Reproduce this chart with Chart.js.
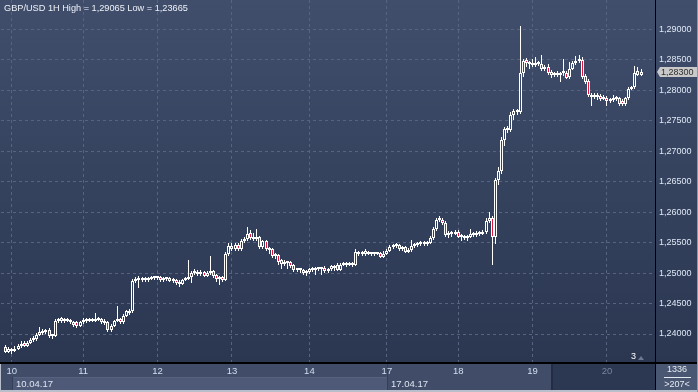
<!DOCTYPE html>
<html>
<head>
<meta charset="utf-8">
<title>GBP/USD 1H</title>
<script src="https://cdn.jsdelivr.net/npm/chart.js@4.4.0/dist/chart.umd.min.js"></script>
<style>
  html, body { margin: 0; padding: 0; background: #2c3852; }
  canvas { display: block; }
</style>
</head>
<body>
<canvas id="chart" width="698" height="392"></canvas>
<script>
// hourly candles, 9th 22:00 -> 20th 11:00 (weekend removed)
const opens = [
  1.2378, 1.2371, 1.2375, 1.2372, 1.2376, 1.2380, 1.2385, 1.2380, 1.2385, 1.2390,
  1.2391, 1.2398, 1.2401, 1.2404, 1.2406, 1.2397, 1.2396, 1.2421, 1.2426, 1.2421,
  1.2423, 1.2422, 1.2420, 1.2419, 1.2413, 1.2419, 1.2423, 1.2421, 1.2424, 1.2422,
  1.2425, 1.2424, 1.2421, 1.2419, 1.2406, 1.2413, 1.2421, 1.2424, 1.2419, 1.2430,
  1.2437, 1.2437, 1.2487, 1.2491, 1.2489, 1.2491, 1.2489, 1.2490, 1.2493, 1.2492,
  1.2493, 1.2488, 1.2490, 1.2492, 1.2487, 1.2489, 1.2486, 1.2482, 1.2489, 1.2490,
  1.2494, 1.2500, 1.2502, 1.2499, 1.2502, 1.2496, 1.2500, 1.2503, 1.2497, 1.2490,
  1.2493, 1.2489, 1.2531, 1.2545, 1.2540, 1.2546, 1.2539, 1.2553, 1.2556, 1.2566,
  1.2560, 1.2556, 1.2559, 1.2543, 1.2552, 1.2540, 1.2540, 1.2528, 1.2530, 1.2521,
  1.2515, 1.2518, 1.2518, 1.2513, 1.2505, 1.2507, 1.2505, 1.2500, 1.2502, 1.2506,
  1.2505, 1.2507, 1.2506, 1.2508, 1.2503, 1.2506, 1.2511, 1.2514, 1.2505, 1.2514,
  1.2516, 1.2514, 1.2515, 1.2513, 1.2535, 1.2531, 1.2537, 1.2531, 1.2533, 1.2531,
  1.2532, 1.2533, 1.2527, 1.2532, 1.2537, 1.2543, 1.2545, 1.2546, 1.2539, 1.2543,
  1.2535, 1.2538, 1.2545, 1.2546, 1.2548, 1.2549, 1.2547, 1.2550, 1.2558, 1.2572,
  1.2587, 1.2588, 1.2583, 1.2563, 1.2566, 1.2565, 1.2567, 1.2559, 1.2561, 1.2558,
  1.2560, 1.2565, 1.2563, 1.2566, 1.2565, 1.2568, 1.2586, 1.2590, 1.2560, 1.2653,
  1.2667, 1.2719, 1.2737, 1.2735, 1.2760, 1.2766, 1.2765, 1.2828, 1.2850, 1.2845,
  1.2845, 1.2841, 1.2843, 1.2844, 1.2835, 1.2838, 1.2831, 1.2825, 1.2829, 1.2825,
  1.2828, 1.2829, 1.2822, 1.2836, 1.2845, 1.2849, 1.2850, 1.2824, 1.2815, 1.2792,
  1.2790, 1.2791, 1.2791, 1.2786, 1.2788, 1.2782, 1.2784, 1.2786, 1.2787, 1.2783,
  1.2777, 1.2787, 1.2803, 1.2805, 1.2832, 1.2826
];
const highs = [
  1.2382, 1.2378, 1.2377, 1.2380, 1.2383, 1.2389, 1.2388, 1.2388, 1.2393, 1.2397,
  1.2401, 1.2411, 1.2408, 1.2409, 1.2410, 1.2399, 1.2424, 1.2427, 1.2428, 1.2426,
  1.2426, 1.2424, 1.2422, 1.2421, 1.2422, 1.2426, 1.2427, 1.2427, 1.2427, 1.2434,
  1.2428, 1.2427, 1.2424, 1.2421, 1.2416, 1.2423, 1.2446, 1.2427, 1.2433, 1.2440,
  1.2441, 1.2490, 1.2494, 1.2495, 1.2494, 1.2493, 1.2494, 1.2495, 1.2496, 1.2496,
  1.2495, 1.2493, 1.2494, 1.2494, 1.2492, 1.2491, 1.2488, 1.2491, 1.2493, 1.2521,
  1.2503, 1.2506, 1.2505, 1.2505, 1.2504, 1.2503, 1.2528, 1.2505, 1.2499, 1.2496,
  1.2495, 1.2534, 1.2550, 1.2549, 1.2550, 1.2549, 1.2556, 1.2560, 1.2575, 1.2570,
  1.2566, 1.2573, 1.2561, 1.2555, 1.2555, 1.2543, 1.2542, 1.2533, 1.2532, 1.2524,
  1.2521, 1.2520, 1.2520, 1.2515, 1.2509, 1.2509, 1.2507, 1.2505, 1.2509, 1.2510,
  1.2510, 1.2509, 1.2510, 1.2511, 1.2509, 1.2513, 1.2514, 1.2517, 1.2517, 1.2519,
  1.2518, 1.2519, 1.2518, 1.2540, 1.2537, 1.2537, 1.2540, 1.2536, 1.2535, 1.2535,
  1.2535, 1.2535, 1.2536, 1.2540, 1.2546, 1.2548, 1.2549, 1.2548, 1.2545, 1.2545,
  1.2541, 1.2554, 1.2549, 1.2551, 1.2552, 1.2552, 1.2553, 1.2561, 1.2575, 1.2591,
  1.2593, 1.2591, 1.2585, 1.2569, 1.2569, 1.2570, 1.2570, 1.2564, 1.2563, 1.2563,
  1.2573, 1.2568, 1.2569, 1.2569, 1.2571, 1.2590, 1.2600, 1.2594, 1.2657, 1.2675,
  1.2723, 1.2740, 1.2741, 1.2764, 1.2769, 1.2770, 1.29065, 1.2852, 1.2853, 1.2849,
  1.2851, 1.2855, 1.2848, 1.2859, 1.2841, 1.2843, 1.2833, 1.2830, 1.2832, 1.2831,
  1.2851, 1.2832, 1.2846, 1.2849, 1.2857, 1.2858, 1.2855, 1.2827, 1.2818, 1.2795,
  1.2795, 1.2795, 1.2794, 1.2792, 1.2791, 1.2788, 1.2792, 1.2791, 1.2790, 1.2786,
  1.2790, 1.2806, 1.2808, 1.2840, 1.2839, 1.2835
];
const lows = [
  1.2369, 1.2369, 1.23665, 1.2370, 1.2373, 1.2377, 1.2378, 1.2378, 1.2383, 1.2387,
  1.2389, 1.2396, 1.2399, 1.2400, 1.2394, 1.2392, 1.2395, 1.2418, 1.2418, 1.2418,
  1.2419, 1.2417, 1.2411, 1.2410, 1.2411, 1.2417, 1.2418, 1.2419, 1.2420, 1.2420,
  1.2421, 1.2417, 1.2415, 1.2403, 1.2404, 1.2411, 1.2419, 1.2416, 1.2417, 1.2428,
  1.2432, 1.2435, 1.2484, 1.2475, 1.2485, 1.2486, 1.2486, 1.2488, 1.2489, 1.2489,
  1.2486, 1.2485, 1.2487, 1.2485, 1.2484, 1.2481, 1.2478, 1.2480, 1.2487, 1.2488,
  1.2484, 1.2497, 1.2496, 1.2496, 1.2494, 1.2493, 1.2497, 1.2492, 1.2486, 1.2481,
  1.2486, 1.2487, 1.2528, 1.2536, 1.2537, 1.2536, 1.2537, 1.2550, 1.2553, 1.2555,
  1.2553, 1.2552, 1.2540, 1.2540, 1.2537, 1.2531, 1.2525, 1.2524, 1.2514, 1.2506,
  1.2512, 1.2506, 1.2509, 1.2502, 1.2502, 1.2501, 1.2497, 1.2495, 1.2499, 1.2502,
  1.2497, 1.2503, 1.2497, 1.2500, 1.2501, 1.2503, 1.2504, 1.2503, 1.2503, 1.2511,
  1.2510, 1.2511, 1.2510, 1.2511, 1.2528, 1.2528, 1.2528, 1.2529, 1.2528, 1.2528,
  1.2529, 1.2525, 1.2525, 1.2530, 1.2534, 1.2540, 1.2541, 1.2537, 1.2537, 1.2533,
  1.2533, 1.2535, 1.2541, 1.2543, 1.2545, 1.2544, 1.2545, 1.2548, 1.2555, 1.2569,
  1.2584, 1.2579, 1.2560, 1.2558, 1.2560, 1.2562, 1.2557, 1.2553, 1.2555, 1.2552,
  1.2558, 1.2560, 1.2560, 1.2561, 1.2562, 1.2565, 1.2583, 1.2513, 1.2548, 1.2645,
  1.2663, 1.2708, 1.2730, 1.2732, 1.2752, 1.2760, 1.2762, 1.2822, 1.2839, 1.2836,
  1.2838, 1.2838, 1.2840, 1.2832, 1.2832, 1.2826, 1.2820, 1.2822, 1.2822, 1.2814,
  1.2823, 1.2818, 1.2818, 1.2833, 1.2842, 1.2845, 1.2819, 1.2810, 1.2789, 1.2775,
  1.2786, 1.2784, 1.2783, 1.2784, 1.2775, 1.2779, 1.2781, 1.2783, 1.2775, 1.2774,
  1.2775, 1.2784, 1.2800, 1.2802, 1.2823, 1.2823
];
const closes = [
  1.2371, 1.2375, 1.2372, 1.2376, 1.2380, 1.2384, 1.2380, 1.2386, 1.2390, 1.2394,
  1.2398, 1.2404, 1.2404, 1.2403, 1.2397, 1.2396, 1.2421, 1.2424, 1.2421, 1.2423,
  1.2422, 1.2420, 1.2415, 1.2413, 1.2419, 1.2423, 1.2421, 1.2424, 1.2422, 1.2425,
  1.2423, 1.2419, 1.2418, 1.2406, 1.2413, 1.2421, 1.2424, 1.2419, 1.2430, 1.2437,
  1.2435, 1.2487, 1.2491, 1.2489, 1.2491, 1.2489, 1.2490, 1.2493, 1.2492, 1.2493,
  1.2488, 1.2490, 1.2491, 1.2487, 1.2489, 1.2483, 1.2482, 1.2489, 1.2490, 1.2494,
  1.2500, 1.2502, 1.2499, 1.2501, 1.2496, 1.2500, 1.2503, 1.2495, 1.2490, 1.2493,
  1.2489, 1.2531, 1.2545, 1.2540, 1.2546, 1.2539, 1.2553, 1.2556, 1.2565, 1.2558,
  1.2556, 1.2559, 1.2543, 1.2552, 1.2540, 1.2538, 1.2528, 1.2529, 1.2519, 1.2515,
  1.2518, 1.2516, 1.2512, 1.2505, 1.2507, 1.2505, 1.2500, 1.2502, 1.2506, 1.2505,
  1.2507, 1.2506, 1.2507, 1.2503, 1.2506, 1.2511, 1.2508, 1.2505, 1.2514, 1.2516,
  1.2514, 1.2515, 1.2513, 1.2535, 1.2531, 1.2533, 1.2531, 1.2533, 1.2531, 1.2532,
  1.2531, 1.2527, 1.2532, 1.2537, 1.2543, 1.2545, 1.2544, 1.2539, 1.2541, 1.2535,
  1.2538, 1.2545, 1.2546, 1.2548, 1.2549, 1.2547, 1.2550, 1.2558, 1.2572, 1.2587,
  1.2588, 1.2582, 1.2563, 1.2566, 1.2565, 1.2567, 1.2559, 1.2561, 1.2558, 1.2560,
  1.2565, 1.2563, 1.2566, 1.2565, 1.2568, 1.2586, 1.2591, 1.2560, 1.2653, 1.2667,
  1.2719, 1.2737, 1.2735, 1.2760, 1.2766, 1.2765, 1.2828, 1.2848, 1.2845, 1.2843,
  1.2841, 1.2843, 1.2844, 1.2835, 1.2837, 1.2829, 1.2825, 1.2827, 1.2825, 1.2828,
  1.2829, 1.2821, 1.2836, 1.2845, 1.2849, 1.2852, 1.2822, 1.2814, 1.2792, 1.2790,
  1.2791, 1.2789, 1.2786, 1.2789, 1.2782, 1.2784, 1.2786, 1.2787, 1.2778, 1.2777,
  1.2787, 1.2803, 1.2805, 1.2828, 1.2826, 1.2830
];

// day separators: candle index where each day begins
const dayLabels = ['10', '11', '12', '13', '14', '17', '18', '19', '20'];
const dayStart = [2, 25, 49, 73, 98, 123, 146, 170, 194];
const weekLabels = ['10.04.17', '17.04.17'];
const weekStart = [2, 123];
const yTicks = [1.24, 1.245, 1.25, 1.255, 1.26, 1.265, 1.27, 1.275, 1.28, 1.285, 1.29];
const yMin = 1.23524;
const yMax = 1.29485;
const highAll = 1.29065;
const lowAll = 1.23665;

const FONT = '"Liberation Sans", Arial, sans-serif';
const RED = '#e0173c';
const BG_TOP = '#404e6c';
const BG_BOTTOM = '#2b3751';

// one empty slot before the first candle, a few after the last
const lead = 1;
const nSlots = 211;
const slotLabels = new Array(nSlots).fill('');
dayStart.forEach((d, k) => { slotLabels[d + lead] = dayLabels[k]; });

const wickData = new Array(nSlots).fill(null);
const bodyData = new Array(nSlots).fill(null);
opens.forEach((o, i) => {
  wickData[i + lead] = [lows[i], highs[i]];
  bodyData[i + lead] = [o, closes[i]];
});

const fmt = v => v.toFixed(5).replace('.', ',');

function bgGradient(chart) {
  const a = chart.chartArea;
  const bottom = a ? a.bottom : chart.height;
  const g = chart.ctx.createLinearGradient(0, 0, 0, bottom);
  g.addColorStop(0, BG_TOP);
  g.addColorStop(1, BG_BOTTOM);
  return g;
}

// keep candles on whole pixels like the terminal does
const snap = {
  id: 'snap',
  beforeDatasetsDraw(chart) {
    chart.data.datasets.forEach((ds, di) => {
      chart.getDatasetMeta(di).data.forEach(el => {
        if (!isFinite(el.x) || !isFinite(el.y)) return;
        el.x = Math.floor(el.x) + 0.5;
        el.y = Math.round(el.y);
        el.base = Math.round(el.base);
      });
    });
  }
};

const chrome = {
  id: 'chrome',
  beforeDraw(chart) {
    const { ctx, chartArea: a, width, height } = chart;
    const x = chart.scales.x;
    ctx.save();
    ctx.fillStyle = bgGradient(chart);
    ctx.fillRect(0, 0, width, a.bottom);

    // x axis band
    ctx.fillStyle = '#404c68';
    ctx.fillRect(0, a.bottom, a.right, height - a.bottom);
    // first week box in the date strip
    const w0 = Math.round(x.getPixelForValue(weekStart[0] + lead));
    const w1 = Math.round(x.getPixelForValue(weekStart[1] + lead));
    ctx.fillStyle = '#4d5976';
    ctx.fillRect(w0, 377, w1 - w0, 13);
    ctx.fillStyle = '#56627e';
    ctx.fillRect(w0, 377, w1 - w0, 1);
    ctx.fillStyle = '#34405a';
    ctx.fillRect(w0, 377, 1, 13);
    ctx.fillRect(w1, 363, 1, 27);
    // scroller region at the right end
    ctx.fillStyle = '#2c3752';
    ctx.fillRect(553, a.bottom, a.right - 553, 27);
    ctx.fillStyle = '#232c42';
    ctx.fillRect(551, a.bottom, 2, 27);
    // counter box
    ctx.fillStyle = '#4a5773';
    ctx.fillRect(a.right, a.bottom, width - a.right, height - a.bottom);
    ctx.restore();
  },
  afterDraw(chart) {
    const { ctx, chartArea: a, width, height } = chart;
    const y = chart.scales.y;
    const x = chart.scales.x;
    ctx.save();
    // frame lines
    ctx.fillStyle = '#000000';
    ctx.fillRect(0, a.bottom - 1, width, 2);
    ctx.fillRect(a.right, 0, 1, height);
    ctx.fillStyle = '#b9bfca';
    ctx.fillRect(0, height - 2, width, 2);
    ctx.fillRect(0, a.bottom + 1, 1, height - a.bottom);
    ctx.fillStyle = '#8d97aa';
    ctx.fillRect(width - 1, 0, 1, height);

    // title
    ctx.font = '9.2px ' + FONT;
    ctx.fillStyle = '#eef2f8';
    ctx.textBaseline = 'middle';
    ctx.textAlign = 'left';
    ctx.fillText('GBP/USD 1H High = ' + fmt(highAll) + ' Low = ' + fmt(lowAll), 4, 8);

    // week labels
    ctx.font = '9.5px ' + FONT;
    ctx.fillStyle = '#dde5f0';
    weekStart.forEach((d, k) => {
      ctx.fillText(weekLabels[k], Math.round(x.getPixelForValue(d + lead)) + 4, 384);
    });

    // last price marker
    const last = closes[closes.length - 1];
    const py = Math.round(y.getPixelForValue(last));
    ctx.fillStyle = '#c9c9c9';
    ctx.beginPath();
    ctx.moveTo(a.right + 2, py);
    ctx.lineTo(a.right + 5, py - 5);
    ctx.lineTo(width - 1, py - 5);
    ctx.lineTo(width - 1, py + 5);
    ctx.lineTo(a.right + 5, py + 5);
    ctx.closePath();
    ctx.fill();
    ctx.fillStyle = '#2e2e2e';
    ctx.font = '9px ' + FONT;
    ctx.fillText(fmt(last), a.right + 6, py + 0.5);

    // small bar count marker
    ctx.fillStyle = '#ffffff';
    ctx.fillText('3', 631, 357);
    ctx.fillStyle = '#6d7990';
    ctx.beginPath();
    ctx.moveTo(638, 360);
    ctx.lineTo(644, 360);
    ctx.lineTo(641, 356);
    ctx.closePath();
    ctx.fill();

    // counter box texts
    ctx.textAlign = 'center';
    ctx.fillStyle = '#e6ebf2';
    ctx.font = '9px ' + FONT;
    ctx.fillText('1336', 677, 370);
    ctx.fillRect(664, 377, 27, 1);
    ctx.fillText('>207<', 677, 385);
    ctx.restore();
  }
};

new Chart(document.getElementById('chart'), {
  type: 'bar',
  data: {
    labels: slotLabels,
    datasets: [
      {
        label: 'wick',
        data: wickData,
        backgroundColor: '#ffffff',
        borderWidth: 0,
        barThickness: 1,
        inflateAmount: 0,
        grouped: false,
        order: 2
      },
      {
        label: 'body',
        data: bodyData,
        backgroundColor: c => {
          const i = c.dataIndex - lead;
          return closes[i] < opens[i] ? RED : bgGradient(c.chart);
        },
        borderColor: '#ffffff',
        borderWidth: 1,
        borderSkipped: false,
        barThickness: 3,
        inflateAmount: 0,
        minBarLength: 2,
        grouped: false,
        order: 1
      }
    ]
  },
  options: {
    responsive: false,
    devicePixelRatio: 1,
    animation: false,
    events: [],
    layout: { padding: { left: 1, right: 0, top: 0, bottom: 0 } },
    plugins: {
      legend: { display: false },
      tooltip: { enabled: false },
      title: { display: false }
    },
    scales: {
      x: {
        type: 'category',
        offset: true,
        grid: {
          offset: false,
          drawTicks: false,
          color: '#56647f',
          lineWidth: 1
        },
        border: { display: false, dash: [3, 3] },
        ticks: {
          autoSkip: false,
          maxRotation: 0,
          padding: 3,
          font: { family: FONT, size: 9.5 },
          color: ctx => (ctx.tick && ctx.tick.value > 190 + lead ? '#77859e' : '#d3def0'),
          callback: v => slotLabels[v]
        },
        afterBuildTicks: axis => {
          axis.ticks = dayStart.map(d => ({ value: d + lead }));
        },
        afterFit: axis => {
          axis.height = 29;
          axis.paddingLeft = 0;
          axis.paddingRight = 0;
        }
      },
      y: {
        position: 'right',
        min: yMin,
        max: yMax,
        grid: {
          drawTicks: false,
          color: '#56647f',
          lineWidth: 1
        },
        border: { display: false, dash: [3, 3] },
        ticks: {
          padding: 4,
          font: { family: FONT, size: 9 },
          color: '#dfe8f4',
          callback: v => fmt(v)
        },
        afterBuildTicks: axis => {
          axis.ticks = yTicks.map(v => ({ value: v }));
        },
        afterFit: axis => {
          axis.width = 43;
          axis.paddingTop = 0;
          axis.paddingBottom = 0;
        }
      }
    }
  },
  plugins: [snap, chrome]
});
</script>
</body>
</html>
